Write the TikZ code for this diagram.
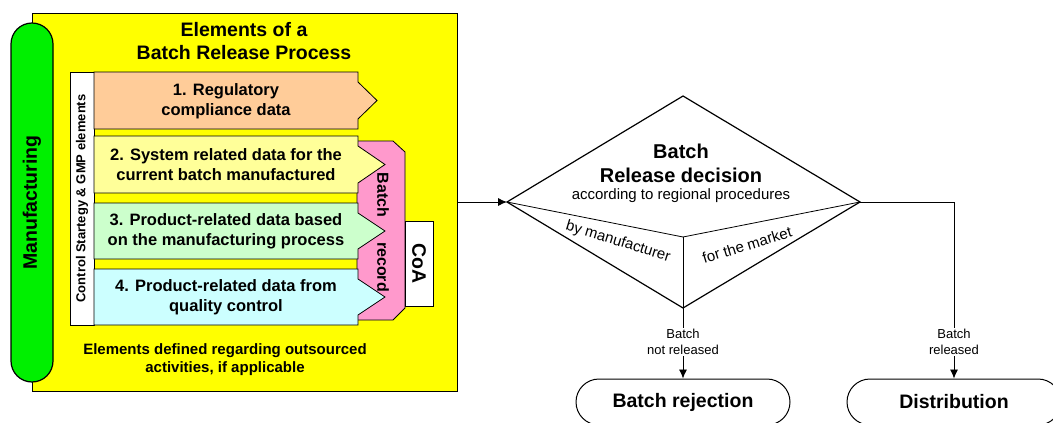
\documentclass[tikz,border=0pt]{standalone}
\usepackage{fontspec}
\setmainfont{Liberation Sans}
\usetikzlibrary{arrows.meta,shapes.misc}
\definecolor{procyellow}{HTML}{FFFF00}
\definecolor{manufgreen}{HTML}{00F000}
\definecolor{regorange}{HTML}{FFCC99}
\definecolor{syslight}{HTML}{FFFF99}
\definecolor{prodgreen}{HTML}{CCFFCC}
\definecolor{qccyan}{HTML}{CCFFFF}
\definecolor{recpink}{HTML}{FF99CC}
% arrow shaped data box: top, bottom, tip x, colour
\newcommand{\databox}[4]{\draw[fill=#4] (94,#1) -- (358,#1) -- (358,#1+10) -- ({#3},{(#1+#2)/2}) -- (358,#2-10) -- (358,#2) -- (94,#2) -- cycle;}

\begin{document}
\begin{tikzpicture}[x=1pt,y=-1pt,line width=0.8pt]
    \tikzstyle{every node}=[inner sep=0pt]
    \tikzstyle{box text}=[align=center,font=\fontsize{16.5}{20}\selectfont\bfseries]
    \tikzstyle{big text}=[align=center,font=\fontsize{19.5}{23}\selectfont\bfseries]
    \tikzstyle{small text}=[align=center,font=\fontsize{13}{16}\selectfont]
    \tikzstyle{side text}=[align=center,font=\fontsize{15}{18}\selectfont]
    \tikzstyle{terminal}=[draw,rounded rectangle,minimum width=214pt,minimum height=46pt,line width=1pt,big text]
    \tikzstyle{arr}=[-{Latex[length=9pt,width=8pt]}]
    \useasboundingbox (0,0) rectangle (1053,423);
    \clip (0,0) rectangle (1053,423);

    % elements of the batch release process
    \node[draw,fill=procyellow,line width=1.2pt,minimum width=425pt,minimum height=378pt,anchor=north west] (proc) at (32,13) {};
    \node[draw,fill=manufgreen,rounded rectangle,rotate=90,minimum width=359pt,minimum height=42pt,line width=1.2pt,big text] (manuf) at (32,202.5) {Manufacturing};
    \node[big text] (title) at (244,41) {Elements of a\\Batch Release Process};
    \node[draw,fill=white,rotate=90,minimum width=253pt,minimum height=24pt,font=\fontsize{13}{15}\selectfont\bfseries] (ctrl) at (82,198.5) {Control Startegy \& GMP elements};

    \draw[fill=recpink] (357,141) -- (393,141) -- (405,152) -- (405,308) -- (393,320) -- (357,320) -- cycle;
    \databox{72}{129}{377}{regorange}
    \databox{136}{193}{385}{syslight}
    \databox{203}{259}{385}{prodgreen}
    \databox{269}{325}{385}{qccyan}
    \node[box text] (regdata) at (226,101) {1. Regulatory\\compliance data};
    \node[box text] (sysdata) at (226,165) {2. System related data for the\\current batch manufactured};
    \node[box text] (procdata) at (226,231) {3. Product-related data based\\on the manufacturing process};
    \node[box text] (qcdata) at (226,297) {4. Product-related data from\\quality control};
    \node[rotate=-90,font=\fontsize{16}{18}\selectfont\bfseries] (batchword) at (383,195) {Batch};
    \node[rotate=-90,font=\fontsize{16}{18}\selectfont\bfseries] (recordword) at (383,267) {record};
    \node[draw,fill=white,rotate=-90,minimum width=85pt,minimum height=28pt,big text] (coa) at (419,263.5) {CoA};
    \node[align=center,font=\fontsize{15}{18}\selectfont\bfseries] (outsrc) at (225,360) {Elements defined regarding outsourced\\activities, if applicable};

    % release decision
    \coordinate (dl) at (507,202);
    \coordinate (dt) at (683,96);
    \coordinate (dr) at (860,202);
    \coordinate (db) at (683,308);
    \coordinate (di) at (683,237);
    \draw[line width=1.2pt] (dl) -- (dt) -- (dr) -- (db) -- cycle;
    \draw (dl) -- (di) -- (dr);
    \draw (di) -- (db);
    \node[align=center,font=\fontsize{20}{24}\selectfont\bfseries] (dtitle) at (681,163) {Batch\\Release decision};
    \node[side text] (dsub) at (681,196) {according to regional procedures};
    \node[side text,rotate=-17] (bymanuf) at (618,242) {by manufacturer};
    \node[side text,rotate=17] (market) at (747,245) {for the market};
    \draw[arr] (proc.east |- dl) -- (dl);

    % outcomes
    \node[terminal] (reject) at (683,402) {Batch rejection};
    \node[terminal] (dist) at (954,402) {Distribution};
    \node[small text,fill=white,inner sep=1pt] (notrel) at (683,342) {Batch\\not released};
    \node[small text,fill=white,inner sep=1pt] (rel) at (954,342) {Batch\\released};
    \draw (db) -- (notrel);
    \draw[arr] (notrel) -- (reject);
    \draw (dr) -| (rel);
    \draw[arr] (rel) -- (dist);
\end{tikzpicture}
\end{document}
